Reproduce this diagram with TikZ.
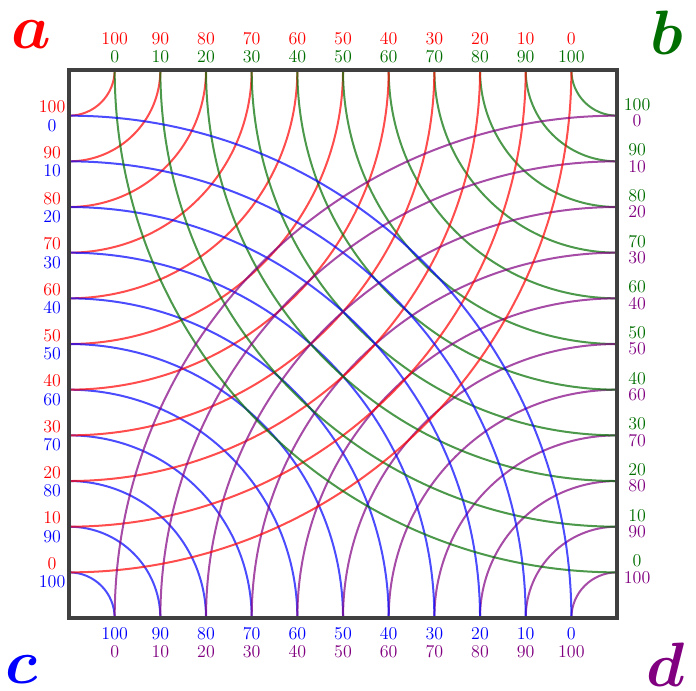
\documentclass[tikz,border=0pt]{standalone}
\usepackage{amsmath,amssymb}
\usepackage{tikz}
\usetikzlibrary{positioning}
\usepackage{xcolor}
\definecolor{bgreen}{RGB}{0,110,0}
\definecolor{dpurple}{RGB}{128,0,128}

\tikzset{
  arcline/.style={line width=1.25pt,opacity=0.7},
  lbl/.style={font=\fontsize{11.2}{13}\selectfont,inner sep=0pt},
  corner/.style={font=\fontsize{24.88}{26}\selectfont\boldmath,anchor=base,inner sep=0pt,
    scale=1.57,transform shape},
  frame/.style={line width=2.2pt,black!75,line join=miter}
}

\begin{document}
\begin{tikzpicture}
\useasboundingbox (-1.511,-1.577) rectangle (13.729,13.533);
% corner letters
\node[corner,red] (a) at (-0.83,12.48) {$a$};
\node[corner,bgreen] (b) at (13.09,12.33) {$b$};
\node[corner,blue] (c) at (-1.03,-1.43) {$c$};
\node[corner,dpurple] (d) at (13.07,-1.50) {$d$};
% quarter circles round each corner
\foreach \k in {1,...,11}{
  \draw[arcline,red] (\k,12) arc[start angle=0,end angle=-90,radius=\k];
  \draw[arcline,bgreen] (12-\k,12) arc[start angle=180,end angle=270,radius=\k];
  \draw[arcline,blue] (\k,0) arc[start angle=0,end angle=90,radius=\k];
  \draw[arcline,dpurple] (12-\k,0) arc[start angle=180,end angle=90,radius=\k];
}
% scale labels
\foreach \k [evaluate=\k as \hi using int(110-10*\k),
             evaluate=\k as \lo using int(10*\k-10)] in {1,...,11}{
  \node[lbl,red] (tr\k) at (\k,12.68) {\hi};
  \node[lbl,bgreen] (tg\k) at (\k,12.285) {\lo};
  \node[lbl,red] (lr\k) at (-0.37,12-\k+0.19) {\hi};
  \node[lbl,blue] (lb\k) at (-0.37,12-\k-0.21) {\lo};
  \node[lbl,bgreen] (rg\k) at (12.44,12-\k+0.25) {\hi};
  \node[lbl,dpurple] (rp\k) at (12.44,12-\k-0.11) {\lo};
  \node[lbl,blue] (bb\k) at (\k,-0.35) {\hi};
  \node[lbl,dpurple] (bp\k) at (\k,-0.745) {\lo};
}
\draw[frame] (0,0) rectangle (12,12);
\end{tikzpicture}
\end{document}
